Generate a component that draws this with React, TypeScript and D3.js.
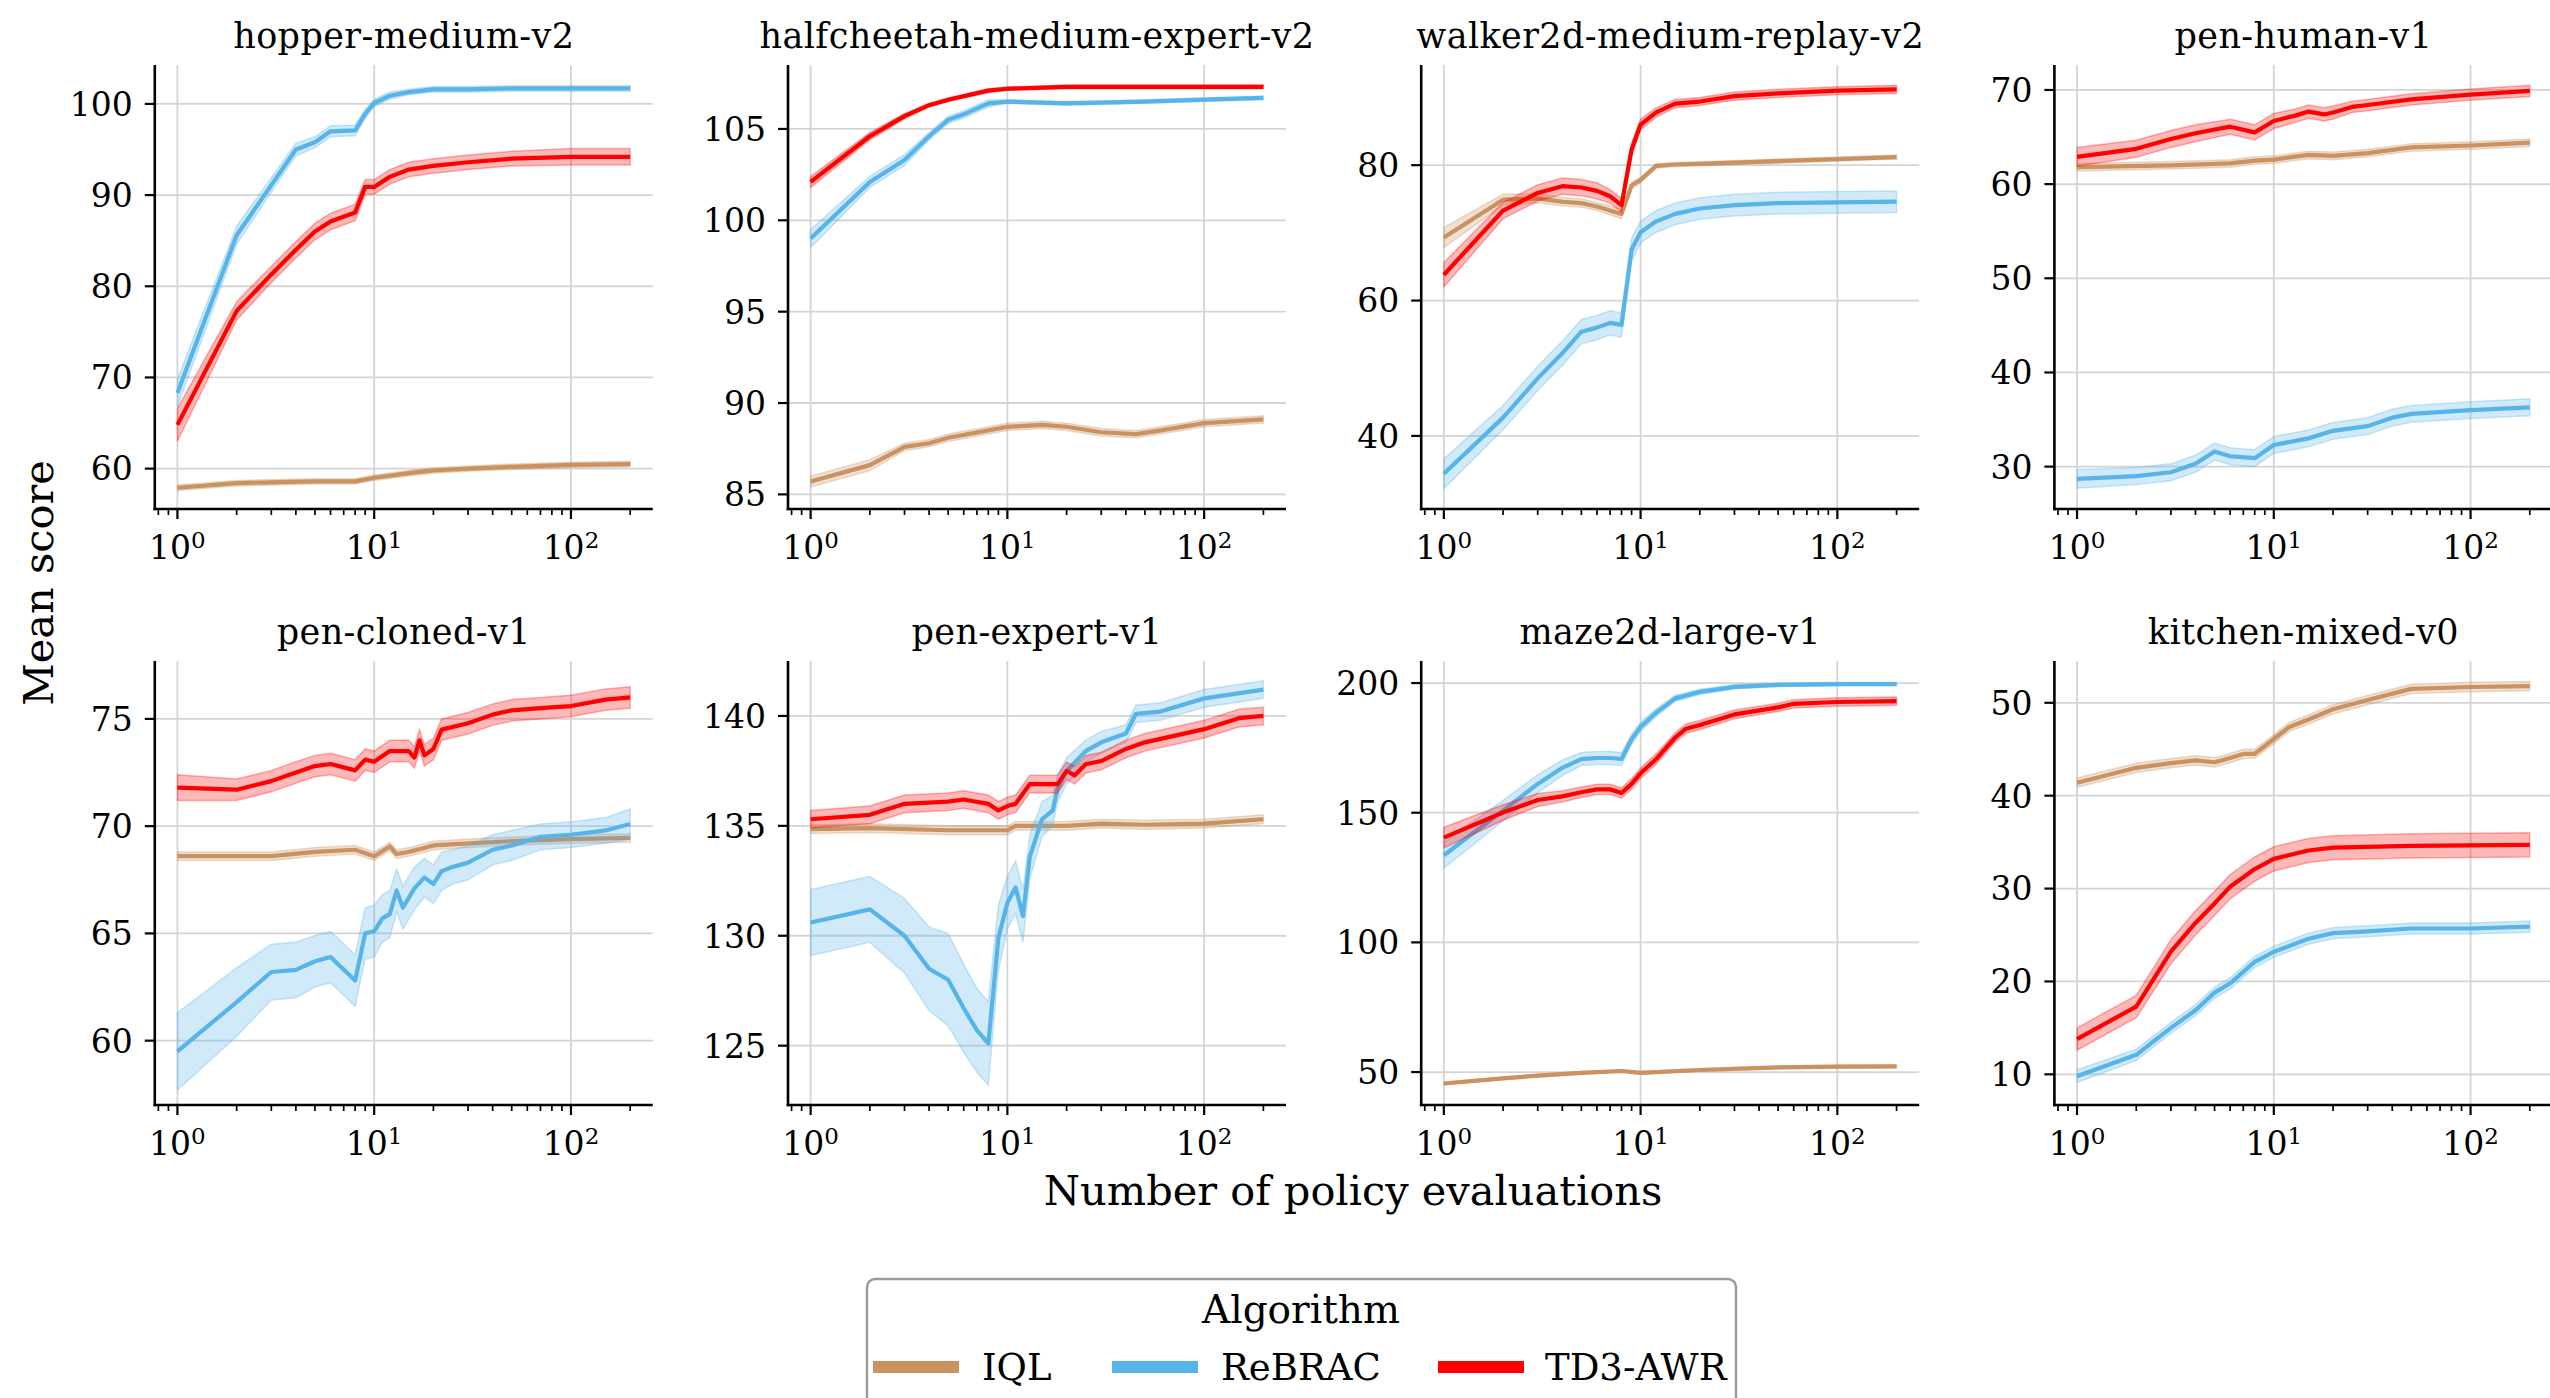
import React from 'react';
import * as d3 from 'd3';

type Pt = [number, number, number]; // [evaluations, mean score, band half-width]

// ---------- data ----------
const algorithms = ['IQL', 'ReBRAC', 'TD3-AWR'];
const algoColors = ['#ca9161', '#56b4e9', '#ff0000'];

const titles = [
  'hopper-medium-v2', 'halfcheetah-medium-expert-v2', 'walker2d-medium-replay-v2', 'pen-human-v1',
  'pen-cloned-v1', 'pen-expert-v1', 'maze2d-large-v1', 'kitchen-mixed-v0',
];
const yDomains: [number, number][] = [
  [55.57, 104.27], [84.2, 108.5], [29.2, 94.8], [25.5, 72.65],
  [57.0, 77.7], [122.3, 142.5], [37.3, 208.5], [6.7, 54.5],
];
const yTicks: number[][] = [
  [60, 70, 80, 90, 100], [85, 90, 95, 100, 105], [40, 60, 80], [30, 40, 50, 60, 70],
  [60, 65, 70, 75], [125, 130, 135, 140], [50, 100, 150, 200], [10, 20, 30, 40, 50],
];
const xMajorTicks = [1, 10, 100];
const xMinorTicks = [0.8, 0.9, 2, 3, 4, 5, 6, 7, 8, 9, 20, 30, 40, 50, 60, 70, 80, 90, 200];

const hopperIQL: Pt[] = [[1,57.9,0.3],[2,58.4,0.3],[3,58.5,0.3],[5,58.6,0.3],[8,58.6,0.3],[10,59.0,0.3],[15,59.5,0.3],[20,59.8,0.3],[30,60.0,0.3],[50,60.2,0.3],[100,60.4,0.3],[200,60.5,0.3]];
const hopperReBRAC: Pt[] = [[1,68.3,1.5],[2,85.6,1.0],[3,91.1,0.8],[4,95.0,0.7],[5,95.8,0.6],[6,97.0,0.6],[8,97.1,0.6],[9,98.9,0.5],[10,100.1,0.4],[12,100.9,0.4],[15,101.3,0.3],[20,101.6,0.3],[30,101.6,0.3],[50,101.7,0.3],[100,101.7,0.3],[200,101.7,0.3]];
const hopperTD3AWR: Pt[] = [[1,64.8,1.8],[2,77.3,1.0],[3,81.3,0.9],[4,84.0,0.9],[5,86.0,0.9],[6,87.1,0.9],[8,88.1,0.9],[9,90.9,0.8],[10,90.9,0.8],[12,92.0,0.8],[15,92.8,0.8],[20,93.2,0.8],[30,93.6,0.8],[50,94.0,0.8],[100,94.2,0.9],[200,94.2,0.9]];

const cheetahIQL: Pt[] = [[1,85.7,0.3],[2,86.6,0.3],[3,87.6,0.2],[4,87.8,0.2],[5,88.1,0.2],[8,88.5,0.2],[10,88.7,0.2],[15,88.8,0.2],[20,88.7,0.2],[30,88.4,0.2],[45,88.3,0.2],[60,88.5,0.2],[100,88.9,0.2],[200,89.1,0.2]];
const cheetahReBRAC: Pt[] = [[1,99.0,0.5],[2,102.1,0.3],[3,103.3,0.3],[4,104.6,0.2],[5,105.5,0.2],[6,105.8,0.2],[8,106.4,0.2],[10,106.5,0.1],[20,106.4,0.1],[50,106.5,0.1],[100,106.6,0.1],[200,106.7,0.1]];
const cheetahTD3AWR: Pt[] = [[1,102.1,0.3],[2,104.6,0.2],[3,105.7,0.15],[4,106.3,0.1],[5,106.6,0.1],[8,107.1,0.1],[10,107.2,0.1],[20,107.3,0.1],[200,107.3,0.1]];

const walkerIQL: Pt[] = [[1,69.3,1.5],[2,74.9,0.8],[3,75.1,0.7],[4,74.6,0.6],[5,74.4,0.6],[6,73.9,0.6],[8,72.8,0.7],[9,77.0,0.5],[10,77.8,0.4],[12,79.9,0.3],[15,80.1,0.3],[20,80.2,0.3],[50,80.6,0.3],[100,80.9,0.3],[200,81.2,0.3]];
const walkerReBRAC: Pt[] = [[1,34.4,2.2],[2,42.7,1.8],[3,48.5,1.8],[4,52.2,1.8],[5,55.4,1.8],[6,56.0,1.8],[7,56.7,1.8],[8,56.4,1.8],[9,67.5,1.7],[10,70.1,1.6],[12,71.7,1.6],[15,72.8,1.6],[20,73.6,1.6],[30,74.1,1.6],[50,74.4,1.6],[100,74.5,1.6],[200,74.6,1.6]];
const walkerTD3AWR: Pt[] = [[1,63.8,1.8],[2,73.3,1.2],[3,75.9,1.2],[4,76.9,1.2],[5,76.7,1.2],[6,76.2,1.2],[7,75.4,1.0],[8,74.1,1.0],[9,82.3,1.0],[10,86.0,0.8],[12,87.8,0.7],[15,89.1,0.6],[20,89.4,0.6],[30,90.2,0.6],[50,90.6,0.6],[100,91.0,0.6],[200,91.2,0.6]];

const penHumanIQL: Pt[] = [[1,61.8,0.4],[3,62.0,0.4],[6,62.2,0.4],[8,62.5,0.4],[10,62.6,0.4],[15,63.1,0.4],[20,63.0,0.4],[30,63.3,0.4],[50,63.9,0.4],[100,64.1,0.4],[200,64.4,0.4]];
const penHumanReBRAC: Pt[] = [[1,28.7,1.0],[2,29.0,0.9],[3,29.4,0.9],[4,30.3,0.9],[5,31.6,0.9],[6,31.1,0.9],[8,30.9,0.9],[10,32.3,0.9],[15,33.0,0.9],[20,33.8,0.9],[30,34.3,0.9],[40,35.2,0.9],[50,35.6,0.9],[100,36.0,0.9],[200,36.3,0.9]];
const penHumanTD3AWR: Pt[] = [[1,62.9,1.0],[2,63.75,0.9],[3,64.8,0.9],[4,65.4,0.9],[6,66.1,0.8],[8,65.5,0.8],[10,66.7,0.8],[13,67.3,0.7],[15,67.7,0.7],[18,67.4,0.7],[20,67.6,0.7],[25,68.2,0.6],[30,68.4,0.6],[50,69.0,0.6],[100,69.5,0.6],[200,69.9,0.6]];

const penClonedIQL: Pt[] = [[1,68.6,0.2],[3,68.6,0.2],[5,68.8,0.2],[8,68.9,0.2],[10,68.6,0.2],[12,69.05,0.2],[13,68.7,0.2],[15,68.8,0.2],[20,69.1,0.2],[30,69.2,0.2],[50,69.3,0.2],[100,69.4,0.2],[200,69.45,0.2]];
const penClonedReBRAC: Pt[] = [[1,59.5,1.8],[2,61.8,1.6],[3,63.2,1.3],[4,63.3,1.3],[5,63.7,1.2],[6,63.9,1.2],[8,62.8,1.2],[9,65.0,1.2],[10,65.1,1.2],[11,65.7,1.1],[12,65.9,1.1],[13,67.0,1.0],[14,66.2,1.0],[16,67.1,1.0],[18,67.6,0.9],[20,67.3,0.9],[22,67.9,0.9],[25,68.1,0.8],[30,68.3,0.8],[40,68.9,0.7],[50,69.1,0.7],[70,69.5,0.6],[100,69.6,0.6],[150,69.8,0.6],[200,70.1,0.7]];
const penClonedTD3AWR: Pt[] = [[1,71.8,0.6],[2,71.7,0.5],[3,72.1,0.5],[4,72.5,0.5],[5,72.8,0.5],[6,72.9,0.5],[8,72.6,0.5],[9,73.1,0.5],[10,73.0,0.5],[12,73.5,0.5],[15,73.5,0.5],[16,73.2,0.5],[17,74.0,0.5],[18,73.3,0.5],[20,73.6,0.5],[22,74.5,0.5],[30,74.8,0.5],[40,75.2,0.5],[50,75.4,0.5],[70,75.5,0.5],[100,75.6,0.5],[150,75.9,0.5],[200,76.0,0.5]];

const penExpertIQL: Pt[] = [[1,134.85,0.2],[2,134.9,0.2],[5,134.8,0.2],[9,134.8,0.2],[10,134.8,0.2],[11,135.0,0.2],[20,135.0,0.2],[30,135.1,0.2],[50,135.05,0.2],[100,135.1,0.2],[200,135.3,0.2]];
const penExpertReBRAC: Pt[] = [[1,130.6,1.5],[2,131.2,1.5],[3,130.0,1.7],[4,128.5,1.9],[5,128.0,2.1],[6,126.7,2.0],[7,125.7,1.9],[8,125.1,1.9],[9,129.9,1.5],[10,131.5,1.2],[11,132.2,1.2],[12,130.9,1.2],[13,133.6,1.0],[15,135.3,0.8],[17,135.7,0.7],[18,136.7,0.6],[20,137.5,0.6],[25,138.4,0.5],[30,138.8,0.5],[40,139.2,0.4],[45,140.1,0.4],[60,140.2,0.4],[100,140.8,0.4],[200,141.2,0.4]];
const penExpertTD3AWR: Pt[] = [[1,135.3,0.4],[2,135.5,0.4],[3,136.0,0.4],[5,136.1,0.4],[6,136.2,0.4],[8,136.0,0.4],[9,135.7,0.4],[10,135.9,0.4],[11,136.0,0.4],[13,136.9,0.4],[15,136.9,0.4],[18,136.9,0.4],[20,137.5,0.4],[22,137.3,0.4],[25,137.8,0.4],[30,137.95,0.4],[40,138.5,0.4],[50,138.8,0.4],[100,139.4,0.4],[150,139.9,0.4],[200,140.0,0.4]];

const mazeIQL: Pt[] = [[1,45.6,0.5],[2,47.6,0.5],[3,48.6,0.5],[5,49.7,0.5],[8,50.4,0.5],[10,49.7,0.5],[20,50.8,0.5],[50,51.8,0.5],[100,52.1,0.5],[200,52.2,0.5]];
const mazeReBRAC: Pt[] = [[1,133.6,5.0],[2,150.8,4.0],[3,161.1,3.5],[4,167.3,3.0],[5,170.7,2.5],[6,171.1,2.5],[7,171.1,2.5],[8,170.7,2.5],[9,178.3,2.0],[10,183.1,1.8],[12,188.6,1.5],[15,194.1,1.2],[20,196.6,1.0],[30,198.5,0.8],[50,199.3,0.6],[100,199.6,0.6],[200,199.6,0.6]];
const mazeTD3AWR: Pt[] = [[1,140.4,4.0],[2,150.1,3.0],[3,154.9,2.5],[4,156.3,2.2],[5,157.9,2.0],[6,159.0,2.0],[7,159.0,2.0],[8,157.6,2.0],[9,161.1,2.0],[10,165.2,2.0],[12,170.7,2.0],[15,179.0,1.8],[17,182.4,1.8],[20,183.8,1.8],[30,187.9,1.7],[50,190.6,1.6],[60,192.0,1.6],[100,192.7,1.6],[200,193.0,1.6]];

const kitchenIQL: Pt[] = [[1,41.4,0.5],[2,43.0,0.5],[3,43.5,0.5],[4,43.8,0.5],[5,43.6,0.5],[6,44.05,0.5],[7,44.5,0.5],[8,44.5,0.5],[10,46.1,0.5],[12,47.4,0.5],[15,48.2,0.5],[20,49.3,0.5],[30,50.3,0.5],[50,51.5,0.5],[100,51.7,0.5],[200,51.8,0.5]];
const kitchenReBRAC: Pt[] = [[1,9.8,0.7],[2,12.1,0.6],[3,15.0,0.6],[4,16.9,0.6],[5,18.8,0.6],[6,19.8,0.6],[8,22.1,0.6],[10,23.2,0.6],[15,24.6,0.6],[20,25.2,0.6],[30,25.4,0.6],[50,25.7,0.6],[100,25.7,0.6],[200,25.9,0.6]];
const kitchenTD3AWR: Pt[] = [[1,13.8,1.2],[2,17.3,1.2],[3,23.2,1.3],[4,26.3,1.3],[5,28.4,1.3],[6,30.2,1.3],[8,32.1,1.3],[10,33.2,1.3],[15,34.1,1.3],[20,34.4,1.3],[50,34.6,1.3],[200,34.7,1.3]];

const panelSeries: Pt[][][] = [
  [hopperIQL, hopperReBRAC, hopperTD3AWR],
  [cheetahIQL, cheetahReBRAC, cheetahTD3AWR],
  [walkerIQL, walkerReBRAC, walkerTD3AWR],
  [penHumanIQL, penHumanReBRAC, penHumanTD3AWR],
  [penClonedIQL, penClonedReBRAC, penClonedTD3AWR],
  [penExpertIQL, penExpertReBRAC, penExpertTD3AWR],
  [mazeIQL, mazeReBRAC, mazeTD3AWR],
  [kitchenIQL, kitchenReBRAC, kitchenTD3AWR],
];

// ---------- layout ----------
const W = 2550;
const H = 1398;
const AX_LEFT0 = 154.8;
const COL_STEP = 633.2;
const AX_W = 498;
const ROW_TOPS = [65, 661];
const AX_H = 444;
const X_DOMAIN: [number, number] = [Math.pow(10, -0.115), Math.pow(10, 2.416)];
const FONT = "'DejaVu Serif', serif";

function Panel({ idx }: { idx: number }) {
  const col = idx % 4;
  const row = Math.floor(idx / 4);
  const left = AX_LEFT0 + col * COL_STEP;
  const top = ROW_TOPS[row];
  const bottom = top + AX_H;
  const right = left + AX_W;
  const x = d3.scaleLog().domain(X_DOMAIN).range([left, right]);
  const y = d3.scaleLinear().domain(yDomains[idx]).range([bottom, top]);
  const line = d3.line<Pt>().x((d) => x(d[0])).y((d) => y(d[1]));
  const area = d3.area<Pt>().x((d) => x(d[0])).y0((d) => y(d[1] - d[2])).y1((d) => y(d[1] + d[2]));
  const supers = ['0', '1', '2'];
  return (
    <g>
      <defs>
        <clipPath id={`clip${idx}`}>
          <rect x={left} y={top} width={AX_W} height={AX_H} />
        </clipPath>
      </defs>
      {/* grid */}
      {xMajorTicks.map((t) => (
        <line key={`gx${t}`} x1={x(t)} x2={x(t)} y1={top} y2={bottom} stroke="#d4d4d4" strokeWidth={1.8} />
      ))}
      {yTicks[idx].map((t) => (
        <line key={`gy${t}`} x1={left} x2={right} y1={y(t)} y2={y(t)} stroke="#d4d4d4" strokeWidth={1.8} />
      ))}
      {/* data */}
      <g clipPath={`url(#clip${idx})`}>
        {panelSeries[idx].map((s, k) => (
          <g key={k}>
            <path d={area(s) || ''} fill={algoColors[k]} fillOpacity={0.28} stroke={algoColors[k]} strokeOpacity={0.3} strokeWidth={1.5} />
            <path d={line(s) || ''} fill="none" stroke={algoColors[k]} strokeWidth={4.2} strokeLinejoin="round" />
          </g>
        ))}
      </g>
      {/* spines */}
      <line x1={left} x2={left} y1={top} y2={bottom + 1.3} stroke="#000" strokeWidth={2.6} />
      <line x1={left - 1.3} x2={right} y1={bottom} y2={bottom} stroke="#000" strokeWidth={2.6} />
      {/* y ticks */}
      {yTicks[idx].map((t) => (
        <g key={`ty${t}`}>
          <line x1={left - 10} x2={left} y1={y(t)} y2={y(t)} stroke="#000" strokeWidth={2.2} />
          <text x={left - 22} y={y(t)} dy="0.36em" textAnchor="end" fontFamily={FONT} fontSize={33} fill="#000">
            {t}
          </text>
        </g>
      ))}
      {/* x ticks */}
      {xMajorTicks.map((t, i) => (
        <g key={`tx${t}`}>
          <line x1={x(t)} x2={x(t)} y1={bottom} y2={bottom + 10} stroke="#000" strokeWidth={2.2} />
          <text x={x(t)} y={bottom + 50} textAnchor="middle" fontFamily={FONT} fontSize={33} fill="#000">
            10<tspan dy={-11} fontSize={23}>{supers[i]}</tspan>
          </text>
        </g>
      ))}
      {xMinorTicks.map((t) => (
        <line key={`mx${t}`} x1={x(t)} x2={x(t)} y1={bottom} y2={bottom + 6} stroke="#000" strokeWidth={1.7} />
      ))}
      {/* title */}
      <text x={(left + right) / 2} y={top - 17} textAnchor="middle" fontFamily={FONT} fontSize={35} letterSpacing={0.4} fill="#000">
        {titles[idx]}
      </text>
    </g>
  );
}

export default function App() {
  const legendHandles = [873, 1112, 1438];
  const legendTexts = [982, 1221, 1545];
  return (
    <svg width={W} height={H} viewBox={`0 0 ${W} ${H}`} style={{ position: 'absolute', left: 0, top: 0, background: '#fff' }}>
      <rect x={0} y={0} width={W} height={H} fill="#fff" />
      {titles.map((_, i) => (
        <Panel key={i} idx={i} />
      ))}
      <text x={1353} y={1205} textAnchor="middle" fontFamily={FONT} fontSize={41.5} fill="#000">
        Number of policy evaluations
      </text>
      <text transform="translate(53,583) rotate(-90)" textAnchor="middle" fontFamily={FONT} fontSize={41.5} fill="#000">
        Mean score
      </text>
      {/* legend */}
      <rect x={867} y={1279} width={869} height={160} rx={8} fill="#fff" stroke="#9a9a9a" strokeWidth={2.4} />
      <text x={1301} y={1323} textAnchor="middle" fontFamily={FONT} fontSize={39} fill="#000">
        Algorithm
      </text>
      {algorithms.map((a, k) => (
        <g key={a}>
          <line x1={legendHandles[k]} x2={legendHandles[k] + 86} y1={1367} y2={1367} stroke={algoColors[k]} strokeWidth={12} />
          <text x={legendTexts[k]} y={1380} fontFamily={FONT} fontSize={37} fill="#000">
            {a}
          </text>
        </g>
      ))}
    </svg>
  );
}
